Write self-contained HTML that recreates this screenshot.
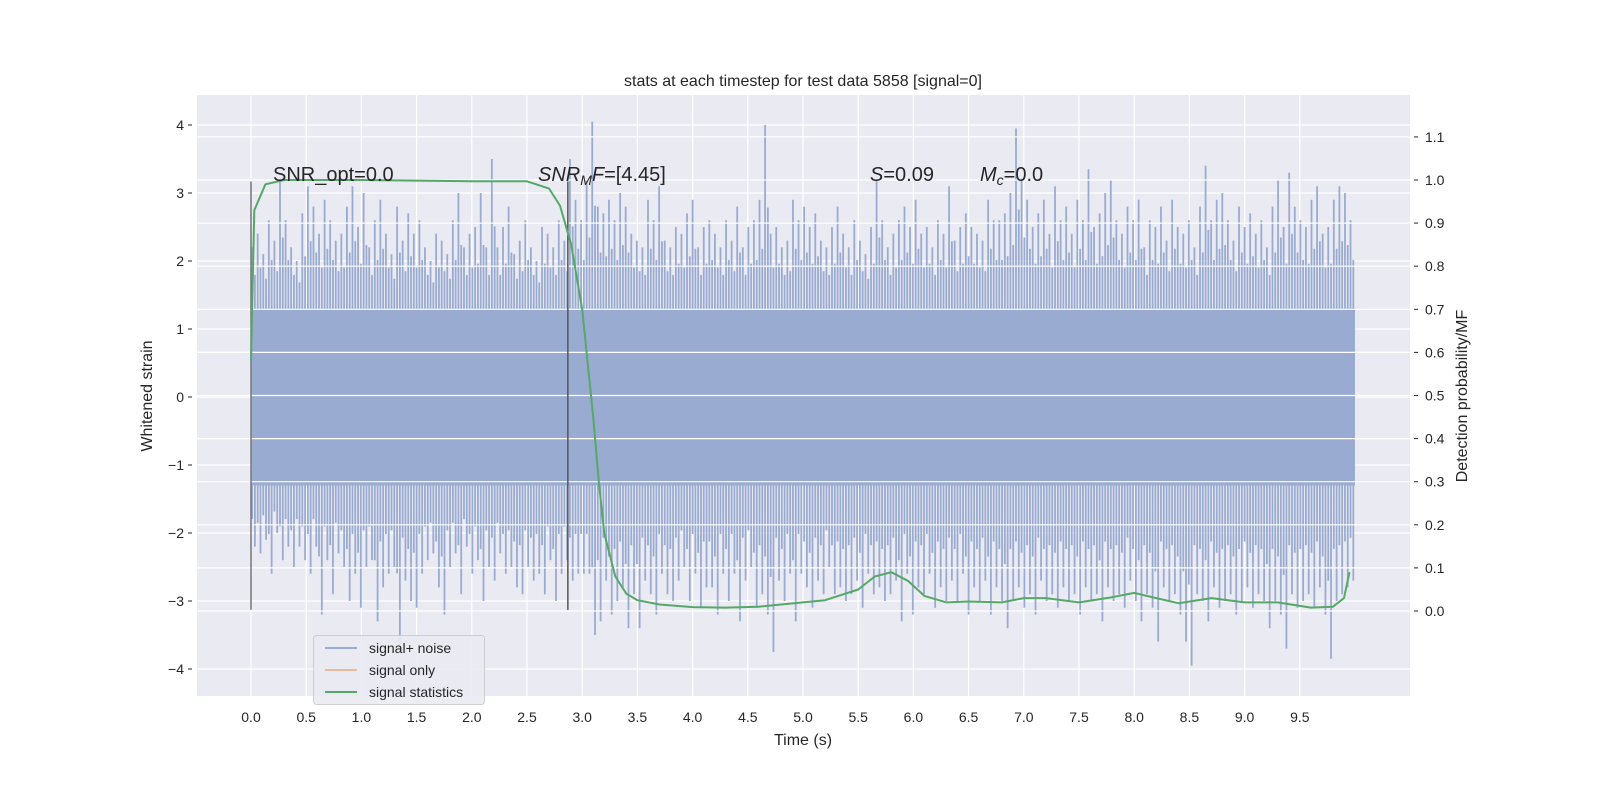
<!DOCTYPE html>
<html><head><meta charset="utf-8"><style>
html,body{margin:0;background:#fff;overflow:hidden;width:1600px;height:800px;}
svg{display:block;font-family:"Liberation Sans","DejaVu Sans",sans-serif;}
</style></head><body>
<svg id="chart" width="1600" height="800" viewBox="0 0 1600 800">
<defs><clipPath id="pc"><rect x="197" y="95" width="1213" height="601"/></clipPath></defs>
<rect x="197" y="95" width="1213" height="601" fill="#eaeaf2"/>
<g id="gridL"></g>
<g id="noise" clip-path="url(#pc)"></g>
<g id="gridR"></g>
<g id="vlines"></g>
<path id="stat" fill="none" stroke="#55a868" stroke-width="2" stroke-linejoin="round"/>
<g id="ticks" font-size="14" fill="#262626"></g>
<text x="803" y="86" text-anchor="middle" font-size="16" fill="#262626">stats at each timestep for test data 5858 [signal=0]</text>
<text x="803" y="745" text-anchor="middle" font-size="16" fill="#262626">Time (s)</text>
<text transform="translate(152,396) rotate(-90)" text-anchor="middle" font-size="16" fill="#262626">Whitened strain</text>
<text transform="translate(1467,396) rotate(-90)" text-anchor="middle" font-size="16" fill="#262626">Detection probability/MF</text>
<g font-size="20" fill="#262626">
<text x="273" y="181">SNR_opt=0.0</text>
<text x="538" y="181"><tspan font-style="italic">SNR</tspan><tspan font-style="italic" font-size="14" dy="4">M</tspan><tspan font-style="italic" dy="-4">F</tspan>=[4.45]</text>
<text x="870" y="181"><tspan font-style="italic">S</tspan>=0.09</text>
<text x="980" y="181"><tspan font-style="italic">M</tspan><tspan font-style="italic" font-size="14" dy="4">c</tspan><tspan dy="-4">=0.0</tspan></text>
</g>
<g id="legend">
<rect x="313.5" y="635.5" width="171" height="69" rx="3" fill="#eaeaf2" stroke="#cccccc" opacity="0.9"/>
<line x1="325" y1="648" x2="357" y2="648" stroke="#9aabd1" stroke-width="2"/>
<text x="369" y="653" font-size="14" fill="#262626">signal+ noise</text>
<line x1="325" y1="670" x2="357" y2="670" stroke="#eab9a0" stroke-width="2"/>
<text x="369" y="675" font-size="14" fill="#262626">signal only</text>
<line x1="325" y1="692" x2="357" y2="692" stroke="#55a868" stroke-width="2"/>
<text x="369" y="697" font-size="14" fill="#262626">signal statistics</text>
</g>
</svg>
<script>
const xTicks=[0,0.5,1,1.5,2,2.5,3,3.5,4,4.5,5,5.5,6,6.5,7,7.5,8,8.5,9,9.5];
const yTicks=[-4,-3,-2,-1,0,1,2,3,4];
const y2Ticks=[0,0.1,0.2,0.3,0.4,0.5,0.6,0.7,0.8,0.9,1.0,1.1];
const upPeaks=[2.2,2.4,2.1,2.6,2.3,3.2,2.6,2.2,2.0,2.7,3.1,2.8,2.4,2.9,2.6,2.3,2.4,2.8,3.1,2.5,3.0,2.2,2.6,2.9,2.4,2.1,2.8,2.3,2.7,2.4,2.6,2.2,2.0,2.4,2.3,2.1,2.6,3.0,2.2,2.4,2.5,3.0,2.2,3.5,2.2,2.5,2.8,2.1,2.3,2.6,2.2,2.0,2.5,2.4,2.2,2.6,2.3,3.5,2.9,2.6,3.2,4.05,2.8,2.7,2.9,2.6,3.0,2.8,2.4,2.3,2.2,2.9,2.6,3.1,2.3,2.2,2.5,2.4,2.7,2.9,2.2,2.5,2.6,2.4,2.2,2.6,2.3,2.8,2.2,2.5,2.6,2.9,4.0,2.4,2.5,2.2,2.3,2.9,2.6,2.8,2.5,2.7,2.3,2.2,2.5,2.8,2.4,2.2,2.6,2.3,2.1,2.5,3.2,2.6,2.2,2.4,2.6,2.8,2.5,2.9,2.4,2.5,2.2,2.6,2.4,3.1,2.3,2.5,2.7,2.5,2.4,2.3,2.9,2.6,2.6,2.7,3.0,3.95,3.2,2.9,2.5,2.7,2.9,2.4,3.1,2.6,2.8,2.4,2.9,2.6,3.35,2.5,2.7,3.0,3.2,2.6,2.4,2.8,2.6,2.9,2.2,2.6,2.5,2.8,2.3,2.9,2.5,2.4,2.6,2.2,2.8,3.4,2.6,2.9,3.0,2.6,2.3,2.8,2.5,2.7,2.4,2.6,2.2,2.8,3.2,2.5,3.3,2.8,2.6,2.5,2.9,3.1,2.4,2.5,2.9,3.1,3.0,2.6];
const downPeaks=[-2.2,-2.3,-2.1,-2.6,-2.0,-2.4,-2.2,-2.5,-2.2,-2.4,-2.6,-2.2,-3.2,-2.4,-2.9,-2.3,-2.5,-3.0,-2.6,-3.1,-2.5,-2.4,-3.3,-2.8,-2.6,-2.5,-3.65,-2.7,-3.0,-3.1,-2.6,-2.4,-2.3,-2.8,-3.2,-2.5,-2.3,-2.9,-2.2,-2.6,-2.4,-3.0,-2.5,-2.7,-2.3,-2.6,-2.5,-2.8,-2.9,-2.5,-2.7,-2.6,-2.9,-2.4,-3.0,-2.6,-2.4,-2.7,-2.6,-2.6,-2.6,-3.5,-3.3,-2.7,-3.2,-3.0,-2.8,-3.4,-2.9,-3.4,-2.7,-2.9,-3.2,-2.6,-2.9,-3.0,-2.7,-2.5,-3.0,-2.6,-3.1,-2.8,-2.8,-3.2,-2.6,-3.0,-2.6,-3.3,-2.7,-2.5,-3.1,-2.9,-3.2,-3.75,-2.7,-3.0,-2.6,-3.3,-2.6,-2.8,-3.1,-2.7,-2.9,-2.5,-2.9,-2.8,-3.0,-2.9,-2.7,-3.1,-2.6,-2.9,-2.8,-3.0,-2.9,-2.7,-3.3,-2.6,-3.2,-2.8,-2.9,-2.6,-3.1,-2.8,-3.0,-2.7,-3.0,-2.6,-3.2,-2.8,-3.0,-2.7,-3.2,-2.8,-3.0,-3.4,-3.0,-2.8,-3.1,-2.9,-3.2,-2.7,-3.0,-2.9,-3.1,-2.8,-3.0,-2.9,-3.2,-2.8,-3.0,-2.9,-3.3,-2.8,-3.0,-2.9,-3.1,-2.7,-3.0,-3.3,-2.9,-3.1,-3.6,-2.8,-3.0,-2.9,-3.2,-3.6,-3.95,-2.9,-3.0,-3.3,-2.8,-3.1,-3.0,-2.9,-3.2,-3.0,-2.8,-3.1,-2.9,-3.0,-3.4,-3.0,-3.2,-3.7,-2.9,-3.1,-3.0,-2.9,-3.1,-2.8,-3.2,-3.85,-3.0,-2.9,-2.8,-2.7];
const statT=[0,0.03,0.13,0.3,1.0,2.0,2.5,2.7,2.8,2.9,3.0,3.1,3.15,3.2,3.3,3.4,3.5,3.7,4.0,4.3,4.6,5.0,5.2,5.5,5.65,5.8,5.95,6.1,6.3,6.5,6.8,7.0,7.2,7.5,7.8,8.0,8.2,8.4,8.7,9.0,9.3,9.6,9.8,9.9,9.95];
const statV=[0.58,0.93,0.99,1.0,1.0,0.997,0.997,0.98,0.94,0.85,0.7,0.45,0.3,0.18,0.08,0.04,0.025,0.015,0.009,0.008,0.01,0.02,0.025,0.05,0.08,0.09,0.07,0.035,0.02,0.022,0.02,0.03,0.03,0.02,0.032,0.042,0.03,0.018,0.03,0.02,0.02,0.008,0.01,0.03,0.09];
const markT=[0,2.87];

const NS='http://www.w3.org/2000/svg';
const X=t=>251+t*110.4;
const Y=v=>397-v*68;
const Y2=p=>611-p*431;
function mk(tag,attrs,parent){const e=document.createElementNS(NS,tag);for(const k in attrs)e.setAttribute(k,attrs[k]);parent.appendChild(e);return e;}
const gL=document.getElementById('gridL'),gR=document.getElementById('gridR'),tk=document.getElementById('ticks'),nz=document.getElementById('noise'),vl=document.getElementById('vlines');
xTicks.forEach(t=>{const l=mk('line',{x1:X(t),x2:X(t),y1:95,y2:696,stroke:'#fff','stroke-width':1.2},gL);


const s=mk('text',{x:X(t),y:722,'text-anchor':'middle'},tk);s.textContent=t.toFixed(1);

});
yTicks.forEach(v=>{const l=mk('line',{x1:197,x2:1410,y1:Y(v),y2:Y(v),stroke:'#fff','stroke-width':1.2},gL);


const s=mk('text',{x:184,y:Y(v)+5,'text-anchor':'end'},tk);s.textContent=v<0?'\u2212'+(-v):String(v);


mk('line',{x1:188,x2:192,y1:Y(v),y2:Y(v),stroke:'#262626'},tk);});
y2Ticks.forEach(p=>{const l=mk('line',{x1:197,x2:1410,y1:Y2(p),y2:Y2(p),stroke:'#fff','stroke-width':1.2},gR);


const s=mk('text',{x:1425,y:Y2(p)+5},tk);s.textContent=p.toFixed(1);


mk('line',{x1:1414,x2:1418,y1:Y2(p),y2:Y2(p),stroke:'#262626'},tk);});
const band=mk('rect',{x:X(0),y:Y(1.3),width:X(10)-X(0),height:Y(-1.3)-Y(1.3),fill:'#9aabd1'},nz);


const n=upPeaks.length,dt=10/n;
for(let i=0;i<n;i++){const t=i*dt,u=upPeaks[i],d=(downPeaks[i]!==undefined?downPeaks[i]:-2.5);
const x1=X(t+0.2*dt),x2=X(t+0.7*dt);
const a=mk('line',{x1:x1,x2:x1,y1:Y(1.2),y2:Y(u),stroke:'#9aabd1','stroke-width':1.8},nz);


const a2=mk('line',{x1:x2,x2:x2,y1:Y(1.2),y2:Y(1.3+(u-1.3)*0.55),stroke:'#9aabd1','stroke-width':1.8},nz);


const b=mk('line',{x1:x2,x2:x2,y1:Y(-1.2),y2:Y(d),stroke:'#9aabd1','stroke-width':1.8},nz);


const b2=mk('line',{x1:x1,x2:x1,y1:Y(-1.2),y2:Y(-1.3+(d+1.3)*0.55),stroke:'#9aabd1','stroke-width':1.8},nz);

}
markT.forEach((t,i)=>{const l=mk('line',{x1:X(t),x2:X(t),y1:Y(3.17),y2:Y(-3.13),stroke:i?'#555':'#777','stroke-width':1.5},vl);

});
document.getElementById('stat').setAttribute('d',statT.map((t,i)=>(i?'L':'M')+X(t).toFixed(1)+','+Y2(statV[i]).toFixed(1)).join(''));
</script>
</body></html>
